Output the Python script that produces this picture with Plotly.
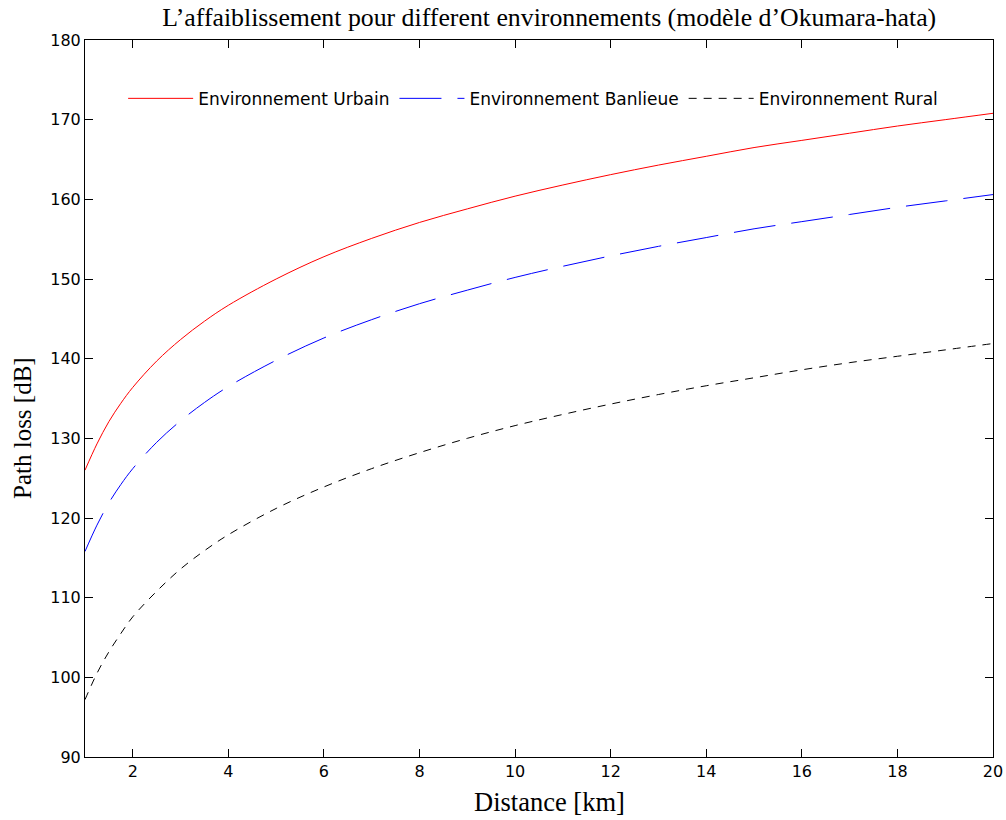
import plotly.graph_objects as go

distance_km = [1, 1.25, 1.5, 1.75, 2, 2.5, 3, 3.5, 4, 5, 6, 7, 8, 9, 10,
               11, 12, 13, 14, 15, 16, 17, 18, 19, 20]
urbain = [126.0, 129.3, 132.1, 134.4, 136.4, 139.7, 142.4, 144.7, 146.7, 150.0,
          152.8, 155.1, 157.1, 158.8, 160.4, 161.8, 163.1, 164.3, 165.4, 166.5,
          167.4, 168.3, 169.2, 170.0, 170.8]
banlieue = [115.8, 119.1, 121.9, 124.2, 126.2, 129.5, 132.2, 134.5, 136.5, 139.8,
            142.6, 144.9, 146.9, 148.6, 150.2, 151.6, 152.9, 154.1, 155.2, 156.3,
            157.2, 158.1, 159.0, 159.8, 160.6]
rural = [97.2, 100.5, 103.2, 105.5, 107.6, 110.8, 113.6, 115.9, 117.9, 121.2,
         123.9, 126.2, 128.2, 130.0, 131.6, 133.0, 134.3, 135.5, 136.6, 137.6,
         138.6, 139.5, 140.3, 141.1, 141.9]

x_ticks = [2, 4, 6, 8, 10, 12, 14, 16, 18, 20]
y_ticks = [90, 100, 110, 120, 130, 140, 150, 160, 170, 180]

fig = go.Figure()
fig.add_trace(go.Scatter(x=distance_km, y=urbain, mode="lines", name="Environnement Urbain",
                         line=dict(color="#ff0000", width=1, shape="spline")))
fig.add_trace(go.Scatter(x=distance_km, y=banlieue, mode="lines", name="Environnement Banlieue",
                         line=dict(color="#0000ff", width=1, shape="spline",
                                   dash="42px,16px")))
fig.add_trace(go.Scatter(x=distance_km, y=rural, mode="lines", name="Environnement Rural",
                         line=dict(color="#000000", width=1, shape="spline", dash="8px,7px")))

axis_common = dict(showgrid=False, zeroline=False, showline=True, linecolor="black",
                   linewidth=1, mirror="ticks", ticks="inside", ticklen=8,
                   tickcolor="black", automargin=False,
                   tickfont=dict(family="DejaVu Sans", size=16, color="black"))

label_font = dict(family="Liberation Serif", size=25, color="black")

fig.update_layout(
    width=1006, height=820,
    margin=dict(l=85, r=13, t=40, b=63),
    paper_bgcolor="white", plot_bgcolor="white",
    title=dict(text="L’affaiblissement pour different environnements (modèle d’Okumara-hata)",
               x=0.546, xanchor="center", y=0.99, yanchor="top",
               font=dict(family="Liberation Serif", size=25.8, color="black")),
    xaxis=dict(range=[1, 20], tickvals=x_ticks, **axis_common),
    yaxis=dict(range=[90, 180], tickvals=y_ticks, **axis_common),
    legend=dict(orientation="h", x=0.042, y=0.918, xanchor="left", yanchor="middle",
                bgcolor="rgba(0,0,0,0)", borderwidth=0, itemwidth=65,
                font=dict(family="DejaVu Sans", size=17, color="black")),
    showlegend=True,
    annotations=[
        dict(text="Distance [km]", xref="paper", yref="paper",
             x=(549 - 85) / 908, y=-(802 - 757) / 717, xanchor="center", yanchor="middle",
             showarrow=False, font=dict(family="Liberation Serif", size=26.5, color="black")),
        dict(text="Path loss [dB]", xref="paper", yref="paper", textangle=-90,
             x=-(85 - 22) / 908, y=(757 - 428) / 717, xanchor="center", yanchor="middle",
             showarrow=False, font=label_font),
    ],
)

fig.write_html("out.html")
